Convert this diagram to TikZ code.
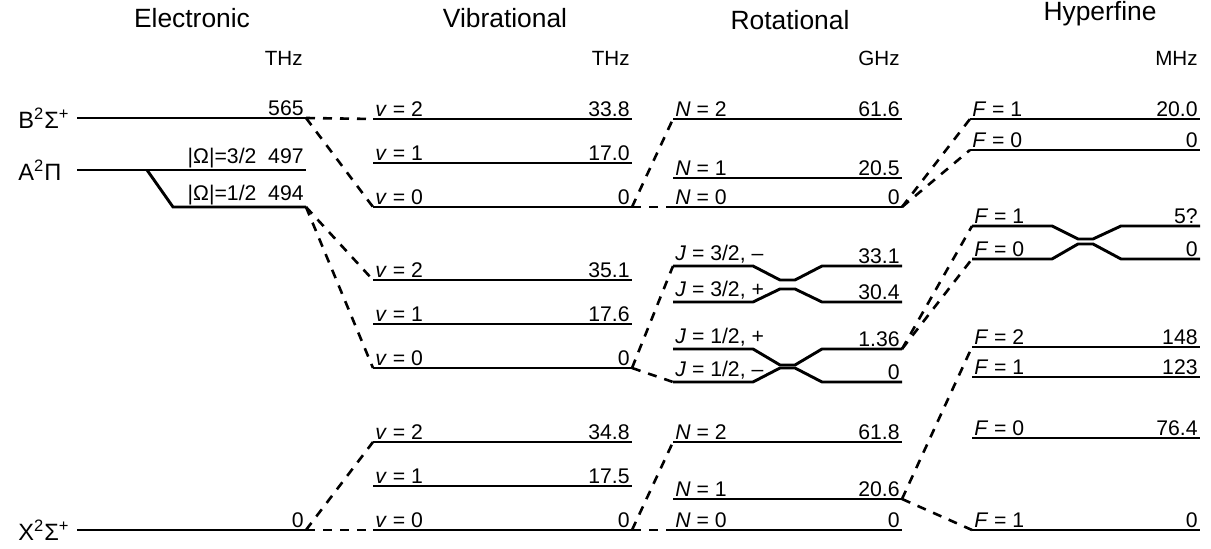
\documentclass[tikz,border=0pt]{standalone}
\usepackage{fontspec}
\setmainfont{Liberation Sans}
\usepackage{tikz}

\begin{document}
\begin{tikzpicture}[
  x=0.5pt, y=-0.5pt,
  lvl/.style={line width=1.45pt},
  link/.style={line width=1.3pt, dash pattern=on 4.5pt off 4pt},
  lab/.style={font=\fontsize{10.6}{12}\selectfont, inner sep=1pt, anchor=south west},
  val/.style={font=\fontsize{10.6}{12}\selectfont, inner sep=1pt, anchor=south east},
  unit/.style={font=\fontsize{10.3}{12}\selectfont, inner sep=0pt, anchor=east},
  head/.style={font=\fontsize{13.2}{15}\selectfont, inner sep=0pt},
  state/.style={font=\fontsize{11.8}{14}\selectfont, inner sep=0pt, anchor=west}
]
\useasboundingbox (0,0) rectangle (1211,549);

% column titles and units
\node[head] (tEl) at (192,18) {Electronic};
\node[head] (tVi) at (505,18) {Vibrational};
\node[head] (tRo) at (790,20) {Rotational};
\node[head] (tHy) at (1100,14) {Hyperfine};
\node[unit] (uEl) at (303,58) {THz};
\node[unit] (uVi) at (630,58) {THz};
\node[unit] (uRo) at (900,58) {GHz};
\node[unit] (uHy) at (1198,58) {MHz};

% electronic states
\node[state] (sB) at (18,118) {B\textsuperscript{2}Σ\textsuperscript{+}};
\node[state] (sA) at (18,170) {A\textsuperscript{2}Π};
\node[state] (sX) at (18,530) {X\textsuperscript{2}Σ\textsuperscript{+}};
\coordinate (eB-l) at (77,118);  \coordinate (eB-r) at (306,118);
\coordinate (eA-l) at (77,170);  \coordinate (eA-k) at (147,170);
\coordinate (eA3-r) at (306,170);
\coordinate (eA1-k) at (173,207); \coordinate (eA-r) at (306,207);
\coordinate (eX-l) at (77,530);  \coordinate (eX-r) at (306,530);
\draw[lvl] (eB-l) -- (eB-r);
\draw[lvl] (eA-l) -- (eA3-r);
\draw[lvl] (eA-k) -- (eA1-k) -- (eA-r);
\draw[lvl] (eX-l) -- (eX-r);
\node[val] (eBv) at (eB-r) {565};
\node[val] (eA3v) at (eA3-r) {|Ω|=3/2~~497};
\node[val] (eA1v) at (eA-r) {|Ω|=1/2~~494};
\node[val] (eXv) at (eX-r) {0};

% vibrational levels
\foreach \n/\y/\q/\val in {B2/119/2/33.8, B1/163/1/17.0, B0/207/0/0,
    A2/280/2/35.1, A1/324/1/17.6, A0/368/0/0,
    X2/442/2/34.8, X1/486/1/17.5, X0/530/0/0} {
  \coordinate (v\n-l) at (373,\y);
  \coordinate (v\n-r) at (632,\y);
  \draw[lvl] (v\n-l) -- (v\n-r);
  \node[lab] (v\n-t) at (v\n-l) {\textit{v} = \q};
  \node[val] (v\n-e) at (v\n-r) {\val};
}

% rotational levels
\foreach \n/\y/\q/\val in {B2/119/2/61.6, B1/178/1/20.5, B0/207/0/0,
    X2/442/2/61.8, X1/499/1/20.6, X0/530/0/0} {
  \coordinate (r\n-l) at (673,\y);
  \coordinate (r\n-r) at (902,\y);
  \draw[lvl] (r\n-l) -- (r\n-r);
  \node[lab] (r\n-t) at (r\n-l) {\textit{N} = \q};
  \node[val] (r\n-e) at (r\n-r) {\val};
}
% rotational levels of A, with crossings
\foreach \n/\y/\m/\q/\val in {J3m/266/280/{3/2, –}/33.1, J3p/302/289/{3/2, +}/30.4,
    J1p/349/365/{1/2, +}/1.36, J1m/382/368/{1/2, –}/0} {
  \coordinate (r\n-l) at (673,\y);
  \coordinate (r\n-r) at (902,\y);
  \draw[lvl] (r\n-l) -- (753,\y) -- (780,\m) -- (795,\m) -- (822,\y) -- (r\n-r);
  \node[lab] (r\n-t) at (r\n-l) {\textit{J} = \q};
  \node[val] (r\n-e) at (r\n-r) {\val};
}

% hyperfine levels
\foreach \n/\x/\y/\q/\val in {B1/970/119/1/20.0, B0/970/150/0/0,
    X2/972/347/2/148, X1/972/377/1/123, X0/972/438/0/76.4, Xg/972/530/1/0} {
  \coordinate (h\n-l) at (\x,\y);
  \coordinate (h\n-r) at (1200,\y);
  \draw[lvl] (h\n-l) -- (h\n-r);
  \node[lab] (h\n-t) at (h\n-l) {\textit{F} = \q};
  \node[val] (h\n-e) at (h\n-r) {\val};
}
\foreach \n/\y/\m/\q/\val in {A1/226/239/1/5?, A0/259/244/0/0} {
  \coordinate (h\n-l) at (972,\y);
  \coordinate (h\n-r) at (1200,\y);
  \draw[lvl] (h\n-l) -- (1052,\y) -- (1078,\m) -- (1093,\m) -- (1121,\y) -- (h\n-r);
  \node[lab] (h\n-t) at (h\n-l) {\textit{F} = \q};
  \node[val] (h\n-e) at (h\n-r) {\val};
}

% links between columns
\draw[link] (eB-r) -- (vB2-l);
\draw[link] (eB-r) -- (vB0-l);
\draw[link] (eA-r) -- (vA2-l);
\draw[link] (eA-r) -- (vA0-l);
\draw[link] (eX-r) -- (vX2-l);
\draw[link] (eX-r) -- (vX0-l);
\draw[link] (vB0-r) -- (rB2-l);
\draw[link] (vB0-r) -- (rB0-l);
\draw[link] (vA0-r) -- (rJ3m-l);
\draw[link] (vA0-r) -- (rJ1m-l);
\draw[link] (vX0-r) -- (rX2-l);
\draw[link] (vX0-r) -- (rX0-l);
\draw[link] (rB0-r) -- (hB1-l);
\draw[link] (rB0-r) -- (hB0-l);
\draw[link] (rJ1p-r) -- (hA1-l);
\draw[link] (rJ1p-r) -- (hA0-l);
\draw[link] (rX1-r) -- (hX2-l);
\draw[link] (rX1-r) -- (hXg-l);
\end{tikzpicture}
\end{document}
